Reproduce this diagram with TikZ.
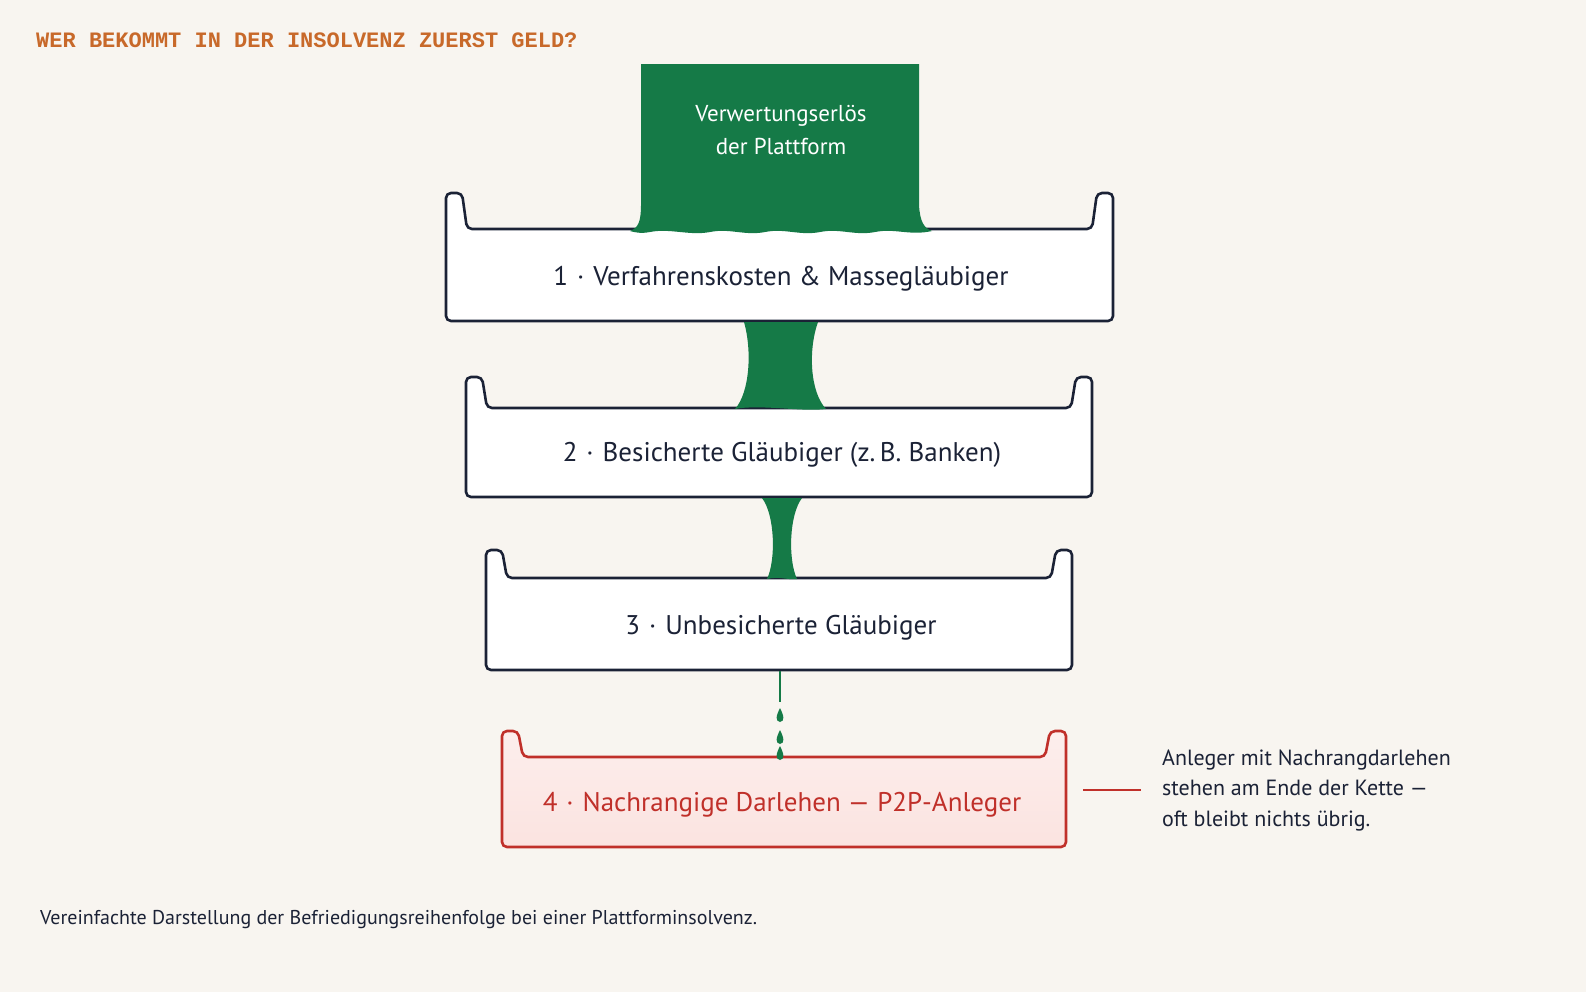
\documentclass[tikz,border=0pt]{standalone}
\usepackage{fontspec}
\setmainfont{PT Sans}
\newfontfamily\titlefont{Liberation Mono}
\definecolor{bgc}{HTML}{F8F5F0}
\definecolor{grn}{HTML}{157A47}
\definecolor{navy}{HTML}{1B2236}
\definecolor{redc}{HTML}{C0302A}
\definecolor{orng}{HTML}{C8692A}
\definecolor{pinkc}{HTML}{FBE3E0}
\newcommand\traypath[6]{%
 \draw[#6,line width=2.6bp,rounded corners=5bp] ({#1+21},#4) -- ({#1+16},#3) -- (#1,#3) -- (#1,#5) -- (#2,#5) -- (#2,#3) -- ({#2-16},#3) -- ({#2-21},#4) -- cycle;}
\tikzset{lbl/.style={font=\fontsize{27bp}{30bp}\selectfont,text=navy,anchor=center},
 stream/.style={fill=grn,draw=none}}
\begin{document}
\begin{tikzpicture}[x=1bp,y=-1bp]
\fill[bgc] (0,0) rectangle (1586,992);
\useasboundingbox (0,0) rectangle (1586,992);
\node[anchor=west,text=orng,font=\titlefont\bfseries\fontsize{22bp}{24bp}\selectfont,inner sep=0pt] (title) at (36,40) {WER BEKOMMT IN DER INSOLVENZ ZUERST GELD?};
% trays
\traypath{446}{1113}{193}{229}{321}{draw=navy,fill=white}
\traypath{466}{1092}{377}{408}{497}{draw=navy,fill=white}
\traypath{486}{1072}{550}{578}{670}{draw=navy,fill=white}
\traypath{502}{1066}{731}{757}{847}{draw=redc,top color=pinkc!60!white,bottom color=pinkc}
% green source
\path[stream] (641,64) -- (919,64) -- (919,205) .. controls (920,222) and (924,228) .. (932,231)
 .. controls (910,236) and (895,228) .. (875,232) .. controls (855,236) and (840,228) .. (820,232)
 .. controls (800,236) and (785,228) .. (765,232) .. controls (745,236) and (730,228) .. (710,232)
 .. controls (690,236) and (670,228) .. (650,232) .. controls (640,234) and (634,232) .. (630,231)
 .. controls (638,228) and (641,222) .. (641,205) -- cycle;
\node[text=white,align=center,font=\fontsize{23bp}{33bp}\selectfont] (src) at (781,130) {Verwertungserlös\\der Plattform};
% stream 1
\path[stream] (744,322) .. controls (752,350) and (750,392) .. (735,409)
 .. controls (760,404) and (800,412) .. (826,409) .. controls (810,392) and (808,350) .. (818,322) -- cycle;
% stream 2
\path[stream] (762,498) .. controls (775,515) and (776,560) .. (767,579)
 .. controls (780,576) and (785,580) .. (797,579) .. controls (788,560) and (789,515) .. (802,498) -- cycle;
% drip
\draw[grn,line width=2.4bp] (780,671) -- (780,702);
\foreach \y in {708,730,746}{
 \path[stream] (780,\y) .. controls (776,{\y+8}) and (775,{\y+13}) .. (780,{\y+14}) .. controls (785,{\y+13}) and (784,{\y+8}) .. (780,\y);}
% labels
\node[lbl] (t1) at (781,279) {1\,\,·\,\,Verfahrenskosten \& Massegläubiger};
\node[lbl] (t2) at (782,455) {2\,\,·\,\,Besicherte Gläubiger (z.\,B. Banken)};
\node[lbl] (t3) at (781,628) {3\,\,·\,\,Unbesicherte Gläubiger};
\node[lbl,text=redc] (t4) at (782,805) {4\,\,·\,\,Nachrangige Darlehen — P2P-Anleger};
\coordinate (la) at (1083,790);
\node[anchor=west,align=left,text=navy,font=\fontsize{22bp}{30.5bp}\selectfont,inner sep=0pt] (note) at (1162,790) {Anleger mit Nachrangdarlehen\\stehen am Ende der Kette —\\oft bleibt nichts übrig.};
\coordinate (lb) at (1141,790);
\draw[redc,line width=2bp] (la) -- (lb);
\node[anchor=west,text=navy,font=\fontsize{20bp}{22bp}\selectfont,inner sep=0pt] (cap) at (40,920) {Vereinfachte Darstellung der Befriedigungsreihenfolge bei einer Plattforminsolvenz.};
\end{tikzpicture}
\end{document}
